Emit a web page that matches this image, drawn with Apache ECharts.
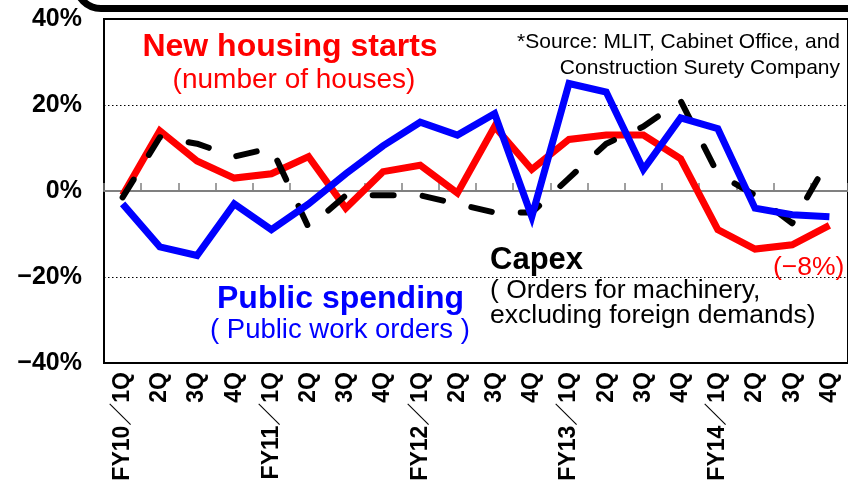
<!DOCTYPE html>
<html>
<head>
<meta charset="utf-8">
<script src="https://cdn.jsdelivr.net/npm/echarts@6/dist/echarts.min.js"></script>
<style>
	html, body { margin: 0; padding: 0; background: #fff; }
	#chart { width: 848px; height: 485px; }
</style>
</head>
<body>
<div id="chart"></div>
<script>
// quarters on the x axis
var categories = ['FY10／1Q', '2Q', '3Q', '4Q', 'FY11／1Q', '2Q', '3Q', '4Q',
	'FY12／1Q', '2Q', '3Q', '4Q', 'FY13／1Q', '2Q', '3Q', '4Q',
	'FY14／1Q', '2Q', '3Q', '4Q'];

// y/y change, %
var housingStarts = [-1, 14, 7, 3, 4, 8, -4, 4.5, 6, -0.5, 15, 5, 12, 13, 13, 7.5, -9, -13.5, -12.5, -8];
var publicSpending = [-3, -13, -15, -3, -9, -3, 4, 10.5, 16, 13, 18, -6, 25, 23, 5, 17, 14.5, -4, -5.5, -6];
var capex = [-1.5, 12.5, 11, 8, 10, -8.5, -1, -1, -1, -3, -5, -5, 3, 11, 15, 21, 4, -1, -7.5, 7.5];

var yTicks = [-40, -20, 0, 20, 40];
var yTickLabels = ['−40%', '−20%', '0%', '20%', '40%'];

var font = "'Liberation Sans', Arial, 'Noto Sans CJK JP', sans-serif";

var chart = echarts.init(document.getElementById('chart'));

function label(x, y, text, color, size, weight, align) {
	return {
		type: 'text',
		x: x,
		y: y,
		z: 100,
		style: {
			text: text,
			fill: color,
			font: (weight || 'normal') + ' ' + size + 'px ' + font,
			align: align || 'left',
			textAlign: align || 'left',
			verticalAlign: 'middle',
			textVerticalAlign: 'middle'
		}
	};
}

var option = {
	animation: false,
	backgroundColor: '#fff',
	grid: {
		left: 104,
		top: 19,
		width: 753,
		height: 344,
		show: true,
		borderColor: '#000',
		borderWidth: 2,
		backgroundColor: 'transparent'
	},
	xAxis: [{
		type: 'category',
		data: categories,
		position: 'bottom',
		axisLine: { show: false, onZero: false },
		axisTick: { show: false },
		axisLabel: {
			interval: 0,
			rotate: 90,
			margin: 9,
			color: '#000',
			fontWeight: 'bold',
			fontSize: 23,
			fontFamily: font
		}
	}, {
		type: 'category',
		data: categories,
		position: 'bottom',
		axisLine: {
			show: true,
			onZero: true,
			lineStyle: { color: '#808080', width: 2 }
		},
		axisTick: {
			show: true,
			inside: true,
			length: 8,
			interval: 0,
			lineStyle: { color: '#808080', width: 1.5 }
		},
		axisLabel: { show: false }
	}],
	yAxis: {
		type: 'value',
		min: -40,
		max: 40,
		interval: 20,
		axisLine: { show: false },
		axisTick: { show: false },
		axisLabel: {
			margin: 22,
			color: '#000',
			fontWeight: 'bold',
			fontSize: 25,
			fontFamily: font,
			formatter: function(v) {
				return yTickLabels[yTicks.indexOf(v)];
			}
		},
		splitLine: {
			show: true,
			lineStyle: { color: '#000', type: [1.5, 2.5], width: 1 }
		}
	},
	series: [{
			name: 'New housing starts',
			type: 'line',
			data: housingStarts,
			symbol: 'none',
			lineStyle: { color: '#ff0000', width: 7, join: 'miter' },
			itemStyle: { color: '#ff0000' }
		},
		{
			name: 'Capex',
			type: 'line',
			data: capex,
			symbol: 'none',
			lineStyle: { color: '#000', width: 6, type: [21, 29], cap: 'round', join: 'round' },
			itemStyle: { color: '#000' }
		},
		{
			name: 'Public spending',
			type: 'line',
			data: publicSpending,
			symbol: 'none',
			lineStyle: { color: '#0000ff', width: 7, join: 'miter' },
			itemStyle: { color: '#0000ff' }
		}
	],
	graphic: [
		// top of the title box, cut off by the picture
		{
			type: 'rect',
			shape: { x: 76, y: -80, width: 900, height: 88.5, r: 25 },
			style: { fill: 'none', stroke: '#000', lineWidth: 7 }
		},
		label(290, 47, 'New housing starts', '#ff0000', 32, 'bold', 'center'),
		label(294, 80, '(number of houses)', '#ff0000', 28, 'normal', 'center'),
		label(840, 42, '*Source: MLIT, Cabinet Office, and', '#000', 21, 'normal', 'right'),
		label(840, 68, 'Construction Surety Company', '#000', 21, 'normal', 'right'),
		label(490, 260, 'Capex', '#000', 31, 'bold'),
		label(490, 291, '( Orders for machinery,', '#000', 26.5, 'normal'),
		label(490, 316, 'excluding foreign demands)', '#000', 26.5, 'normal'),
		label(217, 299, 'Public spending', '#0000ff', 32, 'bold'),
		label(210, 330, '( Public work orders )', '#0000ff', 27.5, 'normal'),
		label(773, 268, '(−8%)', '#ff0000', 26.5, 'normal')
	]
};
chart.setOption(option);
</script>
</body>
</html>
